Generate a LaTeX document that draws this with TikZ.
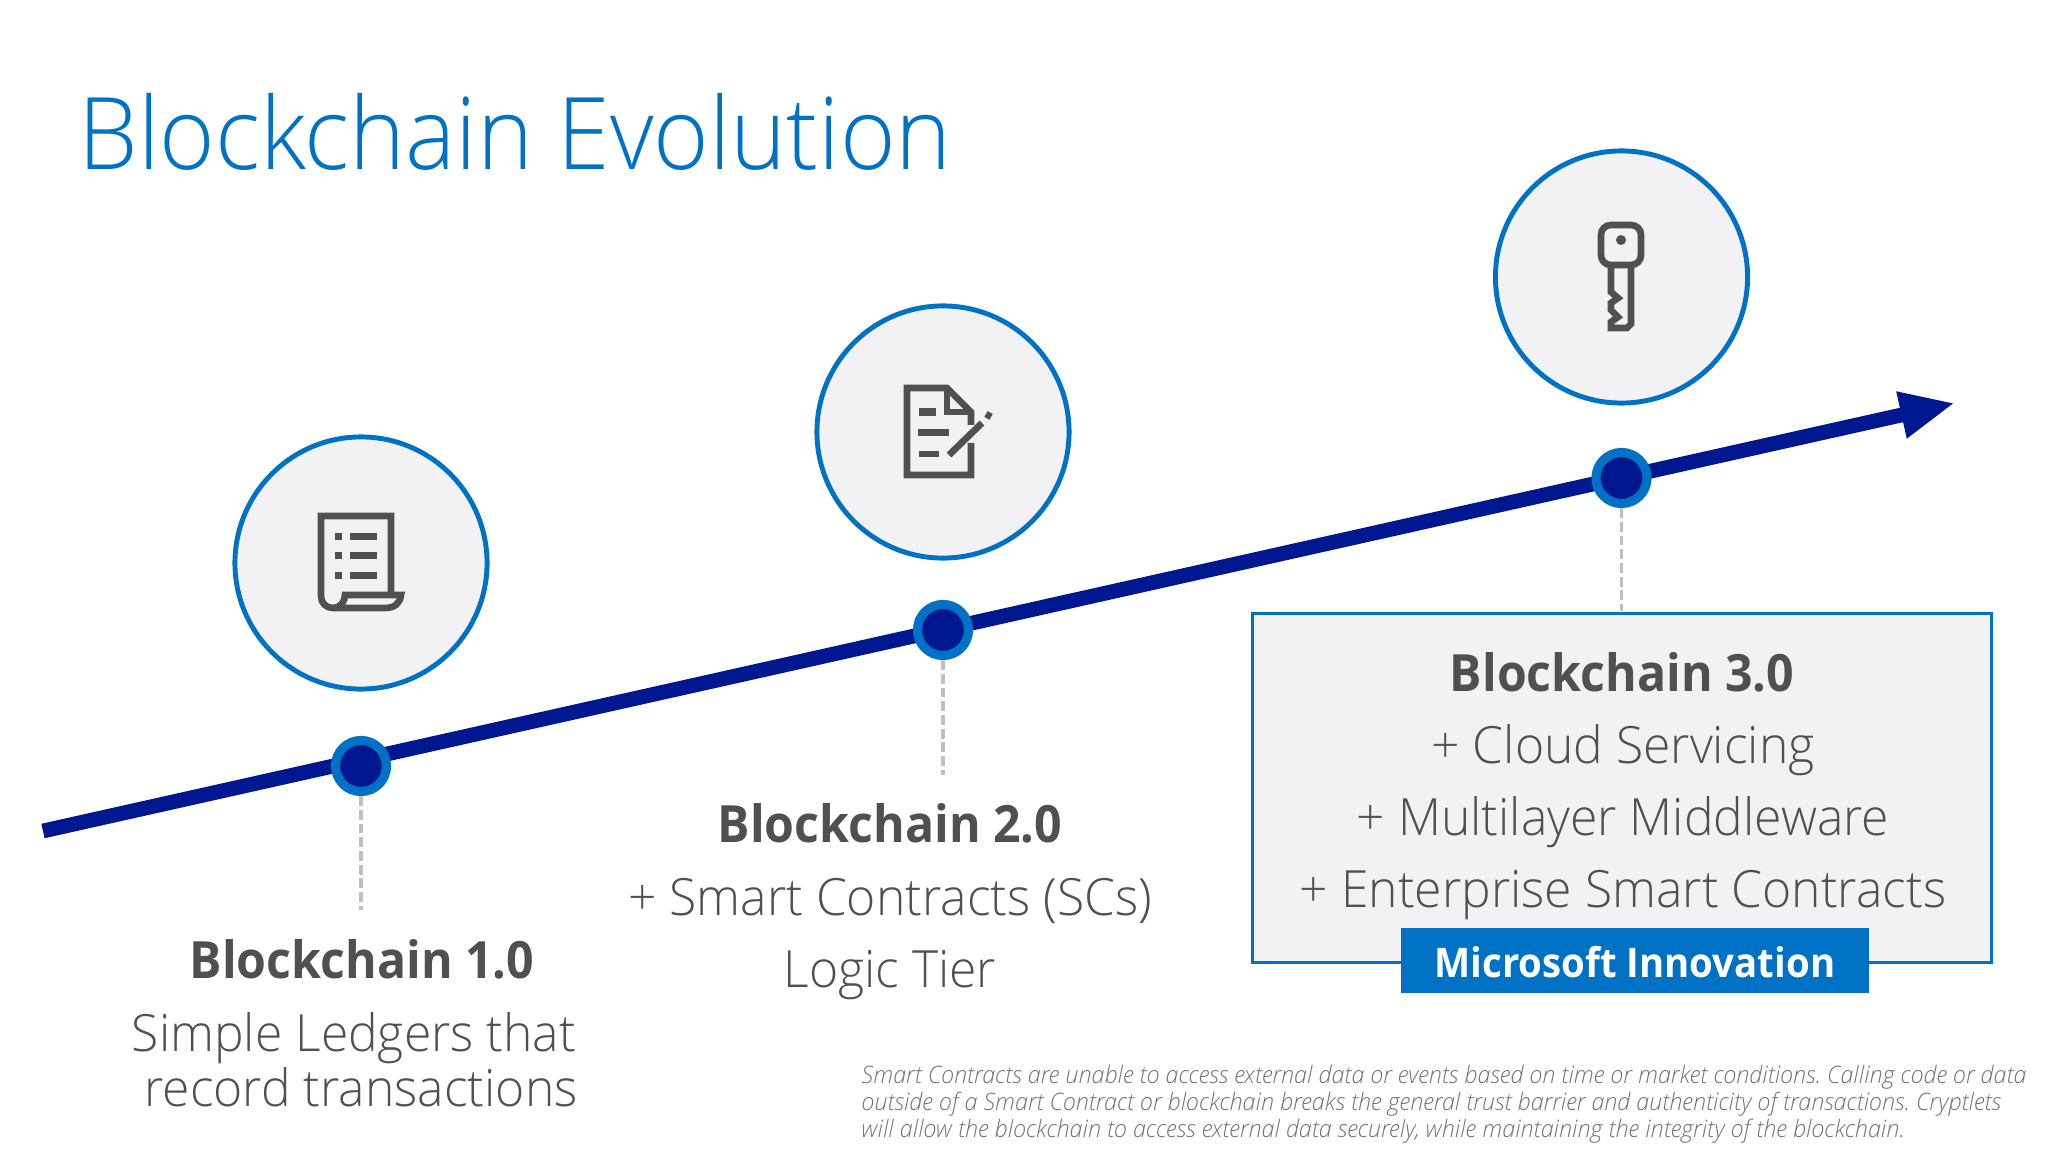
\documentclass[tikz,border=0pt]{standalone}
\usepackage{fontspec}
\setmainfont{Open Sans}[FakeStretch=0.94]
\newfontfamily\lightfont{Open Sans Light}[FakeStretch=0.97]
\newfontfamily\titlefont{Open Sans Light}[FakeStretch=0.947]
\usetikzlibrary{arrows.meta}
\definecolor{msblue}{HTML}{0072C6}
\definecolor{msnavy}{HTML}{00188F}
\definecolor{panel}{HTML}{F2F2F4}
\definecolor{inktext}{HTML}{505052}
\definecolor{droptext}{HTML}{727276}
\definecolor{dropline}{HTML}{BFBFBF}

\begin{document}
\frenchspacing
\begin{tikzpicture}[
        x=0.01cm, y=-0.01cm,
        iconcircle/.style={circle, draw=msblue, fill=panel, line width=1.4pt, minimum size=2.52cm, inner sep=0},
        stepdot/.style={circle, draw=msblue, fill=msnavy, line width=2.6pt, minimum size=0.51cm, inner sep=0},
        axisline/.style={draw=msnavy, line width=4.2pt, -{Triangle[length=15.6pt, width=12.5pt]}},
        dropdash/.style={draw=dropline, line width=1pt, dash pattern=on 2.8pt off 1.1pt},
        infobox/.style={draw=msblue, fill=panel, line width=0.8pt, inner sep=0},
        tagbox/.style={fill=msblue, inner sep=0, text=white, font=\fontsize{11.6}{14}\selectfont\bfseries},
        headtext/.style={anchor=base, inner sep=0, text=inktext, font=\fontsize{14.6}{17}\selectfont\bfseries},
        bodytext/.style={anchor=base, inner sep=0, text=inktext, font=\fontsize{14.6}{17}\lightfont},
        notetext/.style={anchor=base west, inner sep=0, text=droptext, font=\fontsize{6.85}{8}\lightfont\itshape},
        iconline/.style={draw=inktext, line width=1.9pt, line join=miter},
        iconfill/.style={fill=inktext}
    ]
        \useasboundingbox (0,0) rectangle (2048,1152);

        % title
        \node[anchor=base west, inner sep=0, text=msblue, font=\fontsize{28.5}{34}\titlefont] (title) at (78,170) {Blockchain Evolution};

        % timeline
        \coordinate (axisstart) at (43,831);
        \coordinate (axisend) at (1955,403);
        \draw[axisline] (axisstart) -- (axisend);

        \foreach \stepname/\x/\y/\cy/\dropy in {A/361/766/563/910, B/943/630/432/775, C/1621.5/478/277/611} {
            \node[iconcircle] (circle\stepname) at (\x,\cy) {};
            \coordinate (drop\stepname) at (\x,\dropy);
            \node[stepdot] (dot\stepname) at (\x,\y) {};
            \draw[dropdash] (dot\stepname) -- (drop\stepname);
        }

        % ledger icon
        \draw[iconline] (391,595) -- (391,516) -- (321,516) -- (321,596)
            .. controls (321,603) and (326,608) .. (333,608) -- (385,608)
            .. controls (395,608) and (400,603) .. (401,595) -- (345,595)
            .. controls (345,602) and (340,608) .. (333,608);
        \foreach \y in {533,552,572} {
            \fill[iconfill] (335,\y) rectangle (342,\y+7);
            \fill[iconfill] (350,\y) rectangle (377,\y+7);
        }

        % contract icon
        \draw[iconline] (971,443) -- (971,475) -- (907,475) -- (907,388) -- (947,388) -- (971,412) -- (971,425);
        \draw[iconline] (947,388) -- (947,412) -- (971,412);
        \fill[iconfill] (919,408) rectangle (936,416);
        \fill[iconfill] (918,429) rectangle (949,436);
        \fill[iconfill] (919,451) rectangle (939,457);
        \draw[iconline] (949,455) -- (982,423);
        \draw[iconline] (986,414) -- (991,417);

        % key icon
        \draw[iconline, rounded corners=2.8pt] (1601,225) rectangle (1641,265);
        \fill[iconfill] (1621,240) circle (0.05cm);
        \draw[iconline] (1631,265) -- (1631,324) -- (1627,328) -- (1611,328) -- (1611,322)
            -- (1618,317) -- (1611,310) -- (1611,303) -- (1618,298) -- (1611,292) -- (1611,265);

        % stage 1
        \node[headtext] (headA) at (362,978) {Blockchain 1.0};
        \node[bodytext] (bodyAa) at (354,1051) {Simple Ledgers that};
        \node[bodytext] (bodyAb) at (361,1106) {record transactions};

        % stage 2
        \node[headtext] (headB) at (890,842) {Blockchain 2.0};
        \node[bodytext] (bodyBa) at (890,915) {+ Smart Contracts (SCs)};
        \node[bodytext] (bodyBb) at (890,987) {Logic Tier};

        % stage 3
        \node[infobox, minimum width=7.38cm, minimum height=3.48cm] (boxC) at (1622,788) {};
        \node[headtext] (headC) at (1622,691) {Blockchain 3.0};
        \node[bodytext] (bodyCa) at (1623,763) {+ Cloud Servicing};
        \node[bodytext] (bodyCb) at (1623,835) {+ Multilayer Middleware};
        \node[bodytext] (bodyCc) at (1623,907) {+ Enterprise Smart Contracts};
        \node[tagbox, minimum width=4.68cm, minimum height=0.65cm, text height=0.34cm, text depth=0cm] (tagC) at (1635,960.5) {Microsoft Innovation};

        % note
        \node[notetext] (notea) at (861,1083)
            {Smart Contracts are unable to access external data or events based on time or market conditions. Calling code or data};
        \node[notetext] (noteb) at (861,1110)
            {outside of a Smart Contract or blockchain breaks the general trust barrier and authenticity of transactions. Cryptlets};
        \node[notetext] (notec) at (861,1137)
            {will allow the blockchain to access external data securely, while maintaining the integrity of the blockchain.};
    \end{tikzpicture}
\end{document}
